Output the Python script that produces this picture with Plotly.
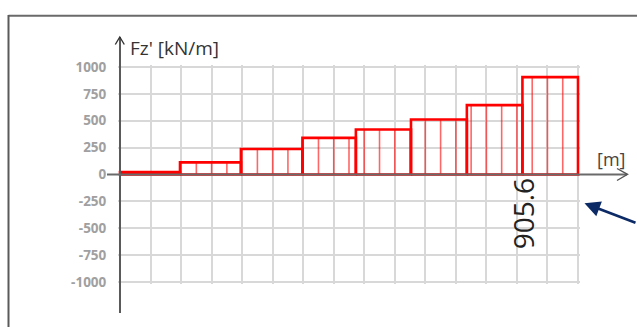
import plotly.graph_objects as go

# Distributed load Fz' along the member, piecewise constant per segment
segment_bounds = [0.0, 3.93, 7.92, 11.95, 15.45, 19.06, 22.72, 26.36, 30.0]  # [m]
segment_loads = [22, 113, 237, 341, 418, 512, 645, 905.6]                       # [kN/m]
y_ticks = [-1000, -750, -500, -250, 0, 250, 500, 750, 1000]

# figure geometry (pixels)
FIG_W, FIG_H = 637, 327
M_L, M_R, M_T, M_B = 118, 57, 65, 43
PLOT_W = FIG_W - M_L - M_R
PLOT_H = FIG_H - M_T - M_B
X_PAD = 0.131
Y_PAD = 18.6
X_RANGE = [segment_bounds[0] - X_PAD, segment_bounds[-1] + X_PAD]
Y_RANGE = [y_ticks[0] - Y_PAD, y_ticks[-1] + Y_PAD]


def px_x(px):
    return (px - M_L) / PLOT_W


def px_y(py):
    return (FIG_H - M_B - py) / PLOT_H


def data_x(v):
    return (v - X_RANGE[0]) / (X_RANGE[1] - X_RANGE[0])


def data_y(v):
    return (v - Y_RANGE[0]) / (Y_RANGE[1] - Y_RANGE[0])


def load_at(x):
    for i in range(len(segment_loads)):
        if segment_bounds[i] <= x < segment_bounds[i + 1] or (
            i == len(segment_loads) - 1 and x <= segment_bounds[-1]
        ):
            return segment_loads[i]
    return 0


# hatching: one vertical stroke per metre, up to the local load
hatch_x, hatch_y = [], []
x = segment_bounds[0]
while x <= segment_bounds[-1] + 1e-9:
    hatch_x += [x, x, None]
    hatch_y += [0, load_at(x), None]
    x += 1.0

# outline: one closed rectangle per segment
out_x, out_y = [], []
for i, v in enumerate(segment_loads):
    x0, x1 = segment_bounds[i], segment_bounds[i + 1]
    out_x += [x0, x0, x1, x1, x0, None]
    out_y += [0, v, v, 0, 0, None]

fig = go.Figure()
fig.add_trace(go.Scatter(
    x=hatch_x, y=hatch_y, mode="lines",
    line=dict(color="rgba(255,0,0,0.6)", width=1.6),
    hoverinfo="skip", showlegend=False,
))
fig.add_trace(go.Scatter(
    x=out_x, y=out_y, mode="lines",
    line=dict(color="#ff0000", width=2.6),
    hoverinfo="skip", showlegend=False,
))

axis_col = "#5a5a5a"
shapes = [
    # frame
    dict(type="line", x0=px_x(8.5), x1=px_x(FIG_W + 2), y0=px_y(15.8), y1=px_y(15.8),
         line=dict(color="#6a6a6a", width=2)),
    dict(type="line", x0=px_x(8.5), x1=px_x(8.5), y0=px_y(15), y1=px_y(FIG_H + 2),
         line=dict(color="#5a5a5a", width=2)),
    # y axis with arrow
    dict(type="line", x0=data_x(0), x1=data_x(0), y0=px_y(37), y1=px_y(313),
         line=dict(color=axis_col, width=2)),
    dict(type="path",
         path="M {} {} L {} {} L {} {}".format(px_x(115.3), px_y(44.5), px_x(119.8), px_y(37),
                                              px_x(124.3), px_y(44.5)),
         line=dict(color="#333333", width=1.4)),
    # x axis with arrow
    dict(type="line", x0=px_x(107), x1=px_x(627), y0=data_y(0), y1=data_y(0),
         line=dict(color="#6a6a6a", width=2)),
    dict(type="path",
         path="M {} {} L {} {} L {} {}".format(px_x(617), px_y(168.5), px_x(627.5), px_y(174.3),
                                              px_x(617), px_y(180.5)),
         line=dict(color="#555555", width=1.4)),
]
for s in shapes:
    s.update(xref="paper", yref="paper", layer="above")

annotations = [
    dict(text="Fz' [kN/m]", xref="paper", yref="paper", x=px_x(127.5), y=px_y(47.5),
         xanchor="left", yanchor="middle", showarrow=False,
         font=dict(family="Open Sans", size=19, color="#333333")),
    dict(text="[m]", xref="paper", yref="paper", x=px_x(627), y=px_y(158.5),
         xanchor="right", yanchor="middle", showarrow=False,
         font=dict(family="Open Sans", size=18, color="#444444")),
    dict(text=f"{segment_loads[-1]:.1f}", xref="x", yref="y",
         x=segment_bounds[-2], y=-366, textangle=-90,
         xanchor="center", yanchor="middle", showarrow=False,
         font=dict(family="Open Sans", size=28, color="#222222")),
    dict(text="", xref="paper", yref="paper", x=px_x(584.5), y=px_y(203.3),
         ax=72, ay=20, showarrow=True, arrowhead=2, arrowsize=1.2,
         arrowwidth=2.6, arrowcolor="#0c2a66", standoff=0),
]

fig.update_layout(
    width=FIG_W, height=FIG_H,
    margin=dict(l=M_L, r=M_R, t=M_T, b=M_B, autoexpand=False),
    paper_bgcolor="white", plot_bgcolor="white",
    shapes=shapes, annotations=annotations,
    xaxis=dict(range=X_RANGE, tick0=0, dtick=2, showgrid=True, gridcolor="#d8d8d8",
               gridwidth=1.8, zeroline=False, showline=False, showticklabels=False,
               ticks="", fixedrange=True),
    yaxis=dict(range=Y_RANGE, tickvals=y_ticks, ticktext=[str(v) for v in y_ticks],
               showgrid=True, gridcolor="#d8d8d8", gridwidth=1.8, zeroline=False,
               showline=False, ticks="outside", ticklen=8, tickcolor="rgba(0,0,0,0)",
               tickfont=dict(family="Open Sans", size=13.5, color="#a0a0a0", weight="bold"),
               automargin=False, fixedrange=True),
)

fig.write_html("out.html")
